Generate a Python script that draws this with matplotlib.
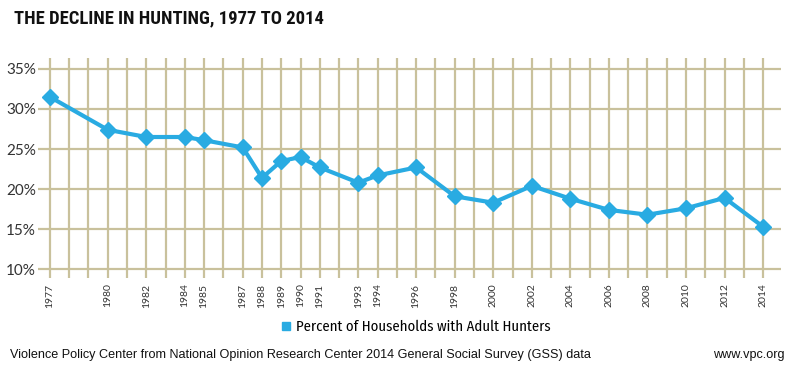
import matplotlib
matplotlib.use("Agg")
import matplotlib.pyplot as plt
from matplotlib.ticker import FuncFormatter

years = [1977, 1980, 1982, 1984, 1985, 1987, 1988, 1989, 1990, 1991, 1993,
         1994, 1996, 1998, 2000, 2002, 2004, 2006, 2008, 2010, 2012, 2014]
pct_hunters = [31.5, 27.4, 26.5, 26.5, 26.1, 25.2, 21.4, 23.5, 24.0, 22.7, 20.8,
               21.7, 22.7, 19.1, 18.3, 20.4, 18.8, 17.4, 16.8, 17.6, 18.9, 15.3]
y_ticks = [10, 15, 20, 25, 30, 35]
series_label = "Percent of Households with Adult Hunters"

BLUE = "#29abe2"
GRID = "#c9c19c"
TEXT = "#333333"
ARIAL = ["Liberation Sans", "DejaVu Sans"]
COND = ["Roboto Condensed", "Liberation Sans", "DejaVu Sans"]

fig = plt.figure(figsize=(8, 3.7), dpi=100)
ax = fig.add_axes([38 / 800, 1 - 278 / 370, (781 - 38) / 800, (278 - 57.7) / 370])

ax.set_xlim(1976.38, 2014.93)
ax.set_ylim(8.9, 36.4)

# yearly vertical grid (one line per year)
ax.vlines(range(years[0], years[-1] + 1), 8.9, 36.4, color=GRID, lw=1.6, zorder=1)
ax.set_yticks(y_ticks)
ax.yaxis.grid(True, color=GRID, lw=1.6, zorder=1)
ax.set_axisbelow(True)

ax.plot(years, pct_hunters, color=BLUE, lw=3, marker="D", ms=8,
        label=series_label, zorder=3)

for s in ax.spines.values():
    s.set_visible(False)

ax.set_xticks(years)
ax.set_xticklabels([str(y) for y in years], rotation=90, fontsize=7.5, color=TEXT,
                   family=["Lato", "DejaVu Sans"])
ax.yaxis.set_major_formatter(FuncFormatter(lambda v, _: f"{v:.0f}%"))
for lbl in ax.get_yticklabels():
    lbl.set_family(["Lato", "DejaVu Sans"])
ax.tick_params(axis="y", length=0, pad=1.5, labelsize=11, labelcolor=TEXT)
ax.tick_params(axis="x", length=0, pad=4)

handle = plt.Line2D([], [], color=BLUE, marker="s", ls="none", ms=6)
fig.legend([handle], [series_label], loc="center", bbox_to_anchor=(416 / 800, 1 - 327 / 370),
           frameon=False, handlelength=0.6, handletextpad=0.35,
           prop={"family": ["Fira Sans Condensed", "DejaVu Sans"], "size": 10.6})

fig.text(14 / 800, 1 - 18 / 370, "THE DECLINE IN HUNTING, 1977 TO 2014",
         fontsize=13.4, fontweight="bold", family=COND,
         va="center", ha="left", color="#111111")
fig.text(10 / 800, 1 - 355 / 370,
         "Violence Policy Center from National Opinion Research Center 2014 General Social Survey (GSS) data",
         fontsize=9.1, family=ARIAL, va="center", ha="left", color="#111111")
fig.text(785 / 800, 1 - 355 / 370, "www.vpc.org", fontsize=9.1,
         family=ARIAL, va="center", ha="right", color="#111111")

fig.savefig("out.png", dpi=100)
